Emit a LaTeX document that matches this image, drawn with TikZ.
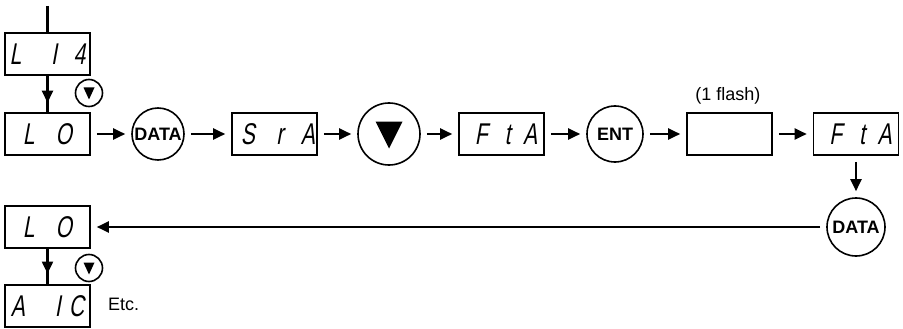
\documentclass[tikz,border=0pt]{standalone}
\usepackage{fontspec}
\setmainfont{Liberation Sans}
\newfontfamily\segfont[FakeStretch=0.7,FakeSlant=0.18]{Liberation Sans}
\usetikzlibrary{arrows.meta,decorations.markings}
\begin{document}
\begin{tikzpicture}[x=1pt,y=-1pt,
  disp/.style={draw,line width=1.6pt,minimum width=85pt,minimum height=42pt,inner sep=0pt,
    font=\segfont\fontsize{30}{30}\selectfont},
  btn/.style={draw,circle,line width=1.6pt,inner sep=0pt,
    font=\bfseries\fontsize{18}{18}\selectfont},
  arr/.style={line width=2.2pt,-{Triangle[length=12pt,width=11pt]},shorten <=6pt,shorten >=6pt},
  vline/.style={line width=2.2pt},
  midarrow/.style={postaction={decorate},decoration={markings,
    mark=at position #1 with {\arrow{Triangle[length=12pt,width=11pt]}}}},
  plain/.style={font=\fontsize{18}{18}\selectfont,inner sep=0pt}
]
\useasboundingbox (0,0) rectangle (903,329);

% display boxes
\node[disp] (l14)  at (47.5,54)  {L\hspace{29.7pt}I\hspace{16.7pt}4\hspace{4pt}};
\node[disp] (lo)   at (47.5,134) {L\hspace{21pt}O};
\node[disp] (sra)  at (274.5,134) {\hspace*{7pt}S\hspace{21.5pt}r\hspace{17.5pt}A};
\node[disp] (fta)  at (501.5,134) {\hspace*{9pt}F\hspace{17pt}t\hspace{12.5pt}A};
\node[disp] (blank) at (729.5,134) {};
\node[disp] (fta2) at (856,134) {\hspace*{9pt}F\hspace{17pt}t\hspace{12.5pt}A};
\node[disp] (lo2)  at (47.5,227) {L\hspace{21pt}O};
\node[disp] (aic)  at (47.5,306) {A\hspace{30pt}I\hspace{8pt}C};

% buttons
\node[btn,minimum size=52pt] (data1) at (158,134) {DATA};
\node[btn,minimum size=62pt] (dnbig) at (389,134) {};
\node[btn,minimum size=56pt] (ent)   at (615,134) {ENT};
\node[btn,minimum size=58pt] (data2) at (856,227) {DATA};
\node[btn,minimum size=27pt] (dn1)   at (89,93) {};
\node[btn,minimum size=27pt] (dn2)   at (89,268) {};

% triangles
\fill (dnbig.center) ++(-13.5,-12.5) -- ++(27,0) -- ++(-13.5,27) -- cycle;
\fill (dn1.center) ++(-5.5,-5.5) -- ++(11,0) -- ++(-5.5,12) -- cycle;
\fill (dn2.center) ++(-5.5,-5.5) -- ++(11,0) -- ++(-5.5,12) -- cycle;

% texts
\node[plain,anchor=base] (flash) at (728,100) {(1 flash)};
\node[plain,anchor=base west] (etc) at (108,310) {Etc.};

% connectors
\coordinate (top) at (47.5,6);
\draw[vline] (top) -- (l14.north);
\draw[vline,midarrow=0.74] (l14) -- (lo);
\draw[arr] (lo) -- (data1);
\draw[arr] (data1) -- (sra);
\draw[arr] (sra) -- (dnbig);
\draw[arr] (dnbig) -- (fta);
\draw[arr] (fta) -- (ent);
\draw[arr] (ent) -- (blank);
\draw[arr] (blank) -- (fta2);
\draw[arr] (fta2) -- (data2);
\draw[arr] (data2) -- (lo2);
\draw[vline,midarrow=0.7] (lo2) -- (aic);
\end{tikzpicture}
\end{document}
